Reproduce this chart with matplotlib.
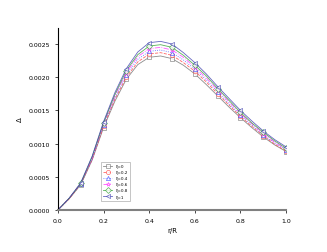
import numpy as np
import matplotlib
matplotlib.use("Agg")
import matplotlib.pyplot as plt

r = [0.0, 0.05, 0.1, 0.15, 0.2, 0.25, 0.3, 0.35, 0.4, 0.45, 0.5,
     0.55, 0.6, 0.65, 0.7, 0.75, 0.8, 0.85, 0.9, 0.95, 1.0]

d_00 = [0, .00017, .00038, .00075, .00124, .00164, .00197, .00219, .00230, .00232, .00228,
        .00218, .00205, .00189, .00172, .00155, .00139, .00124, .00110, .00098, .00088]
d_02 = [0, .00017, .00039, .00076, .00126, .00167, .00200, .00223, .00235, .00237, .00233,
        .00222, .00209, .00193, .00175, .00158, .00141, .00126, .00112, .00099, .00089]
d_04 = [0, .00018, .00039, .00077, .00128, .00169, .00204, .00227, .00239, .00241, .00237,
        .00226, .00212, .00196, .00178, .00160, .00143, .00128, .00113, .00101, .00091]
d_06 = [0, .00018, .00040, .00078, .00130, .00172, .00207, .00231, .00243, .00245, .00241,
        .00230, .00215, .00199, .00181, .00163, .00145, .00130, .00115, .00102, .00092]
d_08 = [0, .00018, .00040, .00080, .00131, .00174, .00210, .00234, .00247, .00249, .00245,
        .00233, .00218, .00202, .00183, .00165, .00147, .00131, .00117, .00104, .00093]
d_10 = [0, .00018, .00041, .00081, .00133, .00177, .00213, .00238, .00252, .00254, .00250,
        .00237, .00222, .00205, .00186, .00168, .00150, .00134, .00119, .00106, .00095]

labels = ["ξ=0", "ξ=0.2", "ξ=0.4", "ξ=0.6", "ξ=0.8", "ξ=1"]
series = [d_00, d_02, d_04, d_06, d_08, d_10]
colors = ["#707070", "#ff4040", "#3040ff", "#ff30ff", "#30a030", "#4040b0"]
markers = ["s", "o", "^", "*", "D", "<"]
styles = ["-", "--", ":", "-.", "-", "-"]

fig = plt.figure(figsize=(3.27, 2.53), dpi=100)
ax = fig.add_axes([0.177, 0.166, 0.698, 0.719])

for ys, lab, c, m, ls in zip(series, labels, colors, markers, styles):
    ax.plot(r, ys, color=c, lw=0.6, ls=ls, alpha=0.8, marker=m, markersize=3,
            markerfacecolor="white", markeredgewidth=0.5, markevery=range(2, 21, 2),
            label=lab)

ax.set_xlim(0, 1.0)
ax.set_ylim(0, 0.00274)
ax.set_xticks([0.0, 0.2, 0.4, 0.6, 0.8, 1.0])
ax.set_yticks([0, 0.0005, 0.001, 0.0015, 0.002, 0.0025])
ax.set_yticklabels(["0.0000", "0.0005", "0.0010", "0.0015", "0.0020", "0.0025"])
ax.tick_params(labelsize=4.5, length=2, width=0.5)
ax.spines["top"].set_visible(False)
ax.spines["right"].set_visible(False)
ax.spines["left"].set_linewidth(0.8)
ax.spines["bottom"].set_color("#808080")
ax.spines["bottom"].set_linewidth(1.5)
ax.set_xlabel("r/R", fontsize=5, labelpad=3)
ax.set_ylabel("Δ", fontsize=5, labelpad=4)

leg = ax.legend(loc="lower left", bbox_to_anchor=(0.18, 0.04), fontsize=3,
                frameon=True, fancybox=False, handlelength=2.2, labelspacing=0.5,
                borderpad=0.5)
leg.get_frame().set_edgecolor("#999999")
leg.get_frame().set_linewidth(0.5)

fig.savefig("out.png", dpi=100)
